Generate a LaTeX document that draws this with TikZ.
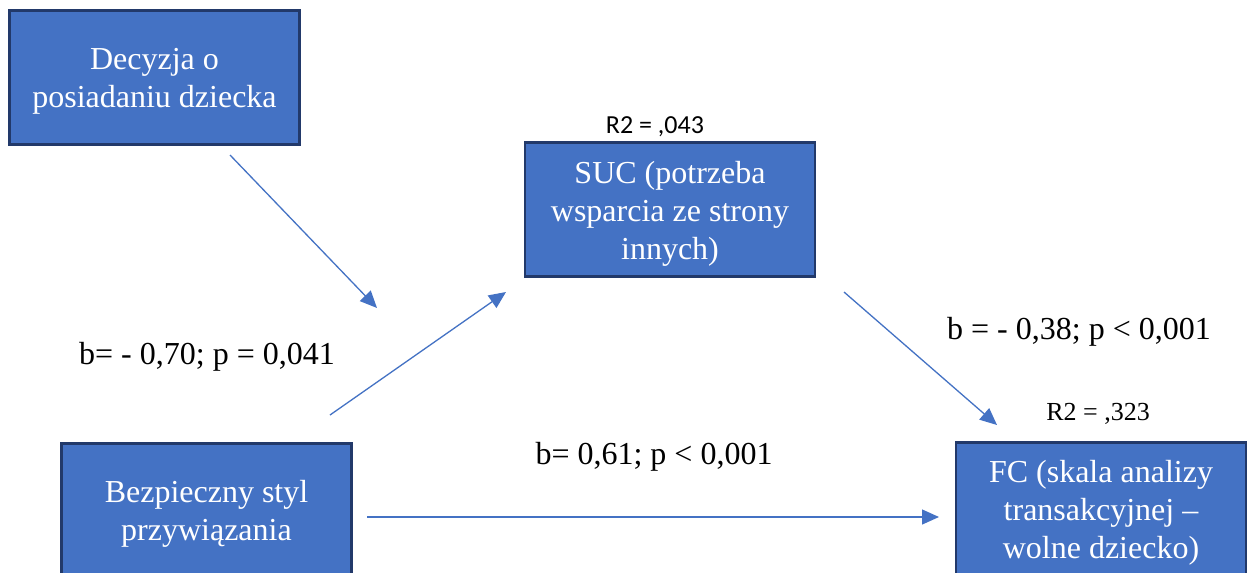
\documentclass[tikz,border=0pt]{standalone}
\usepackage{fontspec}
\setmainfont{Liberation Serif}
\newfontfamily\calibrilike{Carlito}
\usetikzlibrary{arrows.meta}
\definecolor{boxfill}{HTML}{4472C4}
\definecolor{boxline}{HTML}{22396A}
\definecolor{arrowblue}{HTML}{4472C4}
\tikzset{
  varbox/.style={draw=boxline, line width=2.6pt, fill=boxfill,
    minimum width=290pt, minimum height=134pt, inner sep=0pt},
  boxtext/.style={text=white, align=center, inner sep=0pt,
    font=\fontsize{32}{38}\selectfont},
  pathlabel/.style={align=center, inner sep=0pt, font=\fontsize{32}{38}\selectfont},
  rlabel/.style={inner sep=0pt, font=\fontsize{26}{30}\selectfont},
  patharrow/.style={draw=arrowblue, line width=1.3pt,
    -{Triangle[length=17pt,width=15pt]}}
}
\begin{document}
\begin{tikzpicture}[x=1pt,y=-1pt]
  \useasboundingbox (0,0) rectangle (1248,573);
  \clip (0,0) rectangle (1248,573);
  \fill[white] (0,0) rectangle (1248,573);

  % variables (boxes, then their text set slightly below centre)
  \node[varbox] (decyzja) at (154.5,77.5) {};
  \node[varbox] (suc) at (670,209.5) {};
  \node[varbox] (fc) at (1101,509.5) {};
  \node[varbox] (bezp) at (206.5,510.5) {};
  \node[boxtext] (decyzjatext) at ([yshift=-4pt]decyzja.center) {Decyzja o\\posiadaniu dziecka};
  \node[boxtext] (suctext) at ([yshift=-4pt]suc.center) {SUC (potrzeba\\wsparcia ze strony\\innych)};
  \node[boxtext] (fctext) at ([yshift=-3pt]fc.center) {FC (skala analizy\\transakcyjnej --\\wolne dziecko)};
  \node[boxtext] (bezptext) at ([yshift=-3pt]bezp.center) {Bezpieczny styl\\przywiązania};

  % explained variance
  \node[rlabel, font=\calibrilike\fontsize{26}{30}\selectfont] (r2suc) at (655,127) {R2 = ,043};
  \node[rlabel] (r2fc) at (1098,414) {R2 = ,323};

  % path coefficients
  \node[pathlabel] (bmod) at (207,357) {b= - 0,70; p = 0,041};
  \node[pathlabel] (bdirect) at (654,457) {b= 0,61; p < 0,001};
  \node[pathlabel] (bsuc) at (1079,332) {b = - 0,38; p < 0,001};

  % arrow end points
  \coordinate (modstart) at (230,155);
  \coordinate (modend) at (377,308);
  \coordinate (astart) at (330,415);
  \coordinate (aend) at (506,292);
  \coordinate (bstart) at (844,292);
  \coordinate (bend) at (997,425);
  \coordinate (cstart) at (367,517);
  \coordinate (cend) at (939,517);

  \draw[patharrow] (modstart) -- (modend);
  \draw[patharrow] (astart) -- (aend);
  \draw[patharrow] (bstart) -- (bend);
  \draw[patharrow] (cstart) -- (cend);
\end{tikzpicture}
\end{document}
